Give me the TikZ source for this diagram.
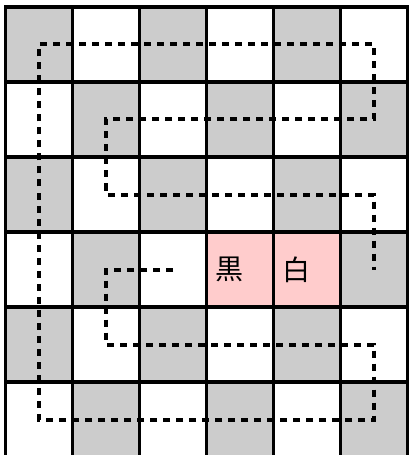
\documentclass[tikz,border=0pt]{standalone}
\usepackage{fontspec}
\newfontfamily\cjk{Noto Sans CJK JP}
\definecolor{cellgray}{HTML}{CCCCCC}
\definecolor{cellpink}{HTML}{FFCCCC}
\begin{document}
\begin{tikzpicture}[x=50.25pt,y=-56.25pt,
    gridline/.style={line width=2.5pt,line cap=rect},
    route/.style={line width=3pt,dash pattern=on 5.25pt off 4.5pt},
    stone/.style={font=\cjk\fontsize{21}{21}\selectfont}]
  \useasboundingbox (-0.082,-0.093) rectangle (6.022,5.973);
  % 灰色格子（交错排列）
  \foreach \r in {0,...,5}
    \foreach \c in {0,...,5}{
      \pgfmathparse{int(mod(\r+\c,2))}
      \ifnum\pgfmathresult=0 \fill[cellgray] (\c,\r) rectangle ++(1,1); \fi
    }
  % 两个粉色格子
  \fill[cellpink] (3,3) rectangle (5,4);
  % 格线
  \foreach \i in {0,...,6} {
    \draw[gridline] (\i,0) -- (\i,6);
    \draw[gridline] (0,\i) -- (6,\i);
  }
  % 文字
  \node[stone] (kuro) at (3.35,3.5) {黒};
  \node[stone] (shiro) at (4.35,3.5) {白};
  % 螺旋虚线
  \draw[route] (2.5,3.5) -- (1.5,3.5) -- (1.5,4.5) -- (5.5,4.5) -- (5.5,5.5)
    -- (0.5,5.5) -- (0.5,0.5) -- (5.5,0.5) -- (5.5,1.5) -- (1.5,1.5)
    -- (1.5,2.5) -- (5.5,2.5) -- (5.5,3.5);
\end{tikzpicture}
\end{document}
